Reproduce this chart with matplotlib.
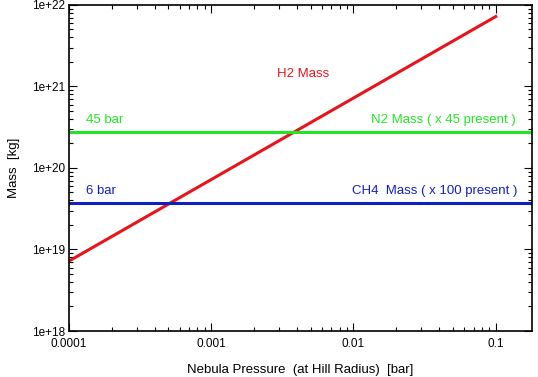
import matplotlib
matplotlib.use("Agg")
import matplotlib.pyplot as plt
from matplotlib.ticker import LogLocator, FixedLocator, FixedFormatter, NullFormatter

plt.rcParams['font.family'] = ['Liberation Sans', 'DejaVu Sans']

# data
pressure = [0.0001, 0.001, 0.01, 0.1]          # bar
h2_mass = [7.2e18, 7.2e19, 7.2e20, 7.2e21]     # kg
n2_mass = 2.75e20                              # kg, x45 present (45 bar)
ch4_mass = 3.7e19                              # kg, x100 present (6 bar)
x_lim = [0.0001, 0.18]
y_lim = [1e18, 1e22]
x_ticks = [0.0001, 0.001, 0.01, 0.1]
x_labels = ["0.0001", "0.001", "0.01", "0.1"]
y_ticks = [1e18, 1e19, 1e20, 1e21, 1e22]
y_labels = ["1e+18", "1e+19", "1e+20", "1e+21", "1e+22"]

red = "#e8141c"
green = "#22e622"
blue = "#1020c0"

fig = plt.figure(figsize=(5.38, 3.77), dpi=100)
ax = fig.add_axes([0.128, 0.122, 0.861, 0.865])

ax.plot(pressure, h2_mass, color=red, lw=2.2)
ax.plot(x_lim, [n2_mass, n2_mass], color=green, lw=2.2)
ax.plot(x_lim, [ch4_mass, ch4_mass], color=blue, lw=2.2)

ax.set_xscale("log")
ax.set_yscale("log")
ax.set_xlim(x_lim)
ax.set_ylim(y_lim)

ax.xaxis.set_major_locator(FixedLocator(x_ticks))
ax.xaxis.set_major_formatter(FixedFormatter(x_labels))
ax.yaxis.set_major_locator(FixedLocator(y_ticks))
ax.yaxis.set_major_formatter(FixedFormatter(y_labels))
ax.xaxis.set_minor_locator(LogLocator(base=10, subs=range(2, 10), numticks=20))
ax.yaxis.set_minor_locator(LogLocator(base=10, subs=range(2, 10), numticks=20))
ax.xaxis.set_minor_formatter(NullFormatter())
ax.yaxis.set_minor_formatter(NullFormatter())

ax.tick_params(which="both", direction="in", top=True, right=True, labelsize=8.5, width=0.8)
ax.tick_params(which="major", length=6)
ax.tick_params(which="minor", length=3)
ax.tick_params(axis="x", pad=5)
ax.tick_params(axis="y", pad=3)
for s in ax.spines.values():
    s.set_linewidth(1.2)

ax.set_xlabel("Nebula Pressure  (at Hill Radius)  [bar]", fontsize=9.5, labelpad=10)
ax.set_ylabel("Mass  [kg]", fontsize=9.5, labelpad=8)

ax.text(0.00445, 1.2e21, "H2 Mass", color=red, fontsize=9.5, ha="center", va="bottom")
ax.text(0.000133, 3.3e20, "45 bar", color=green, fontsize=9.5, ha="left", va="bottom")
ax.text(0.138, 3.3e20, "N2 Mass ( x 45 present )", color=green, fontsize=9.5, ha="right", va="bottom")
ax.text(0.000133, 4.4e19, "6 bar", color=blue, fontsize=9.5, ha="left", va="bottom")
ax.text(0.142, 4.4e19, "CH4  Mass ( x 100 present )", color=blue, fontsize=9.5, ha="right", va="bottom")

fig.savefig("out.png", dpi=100)
